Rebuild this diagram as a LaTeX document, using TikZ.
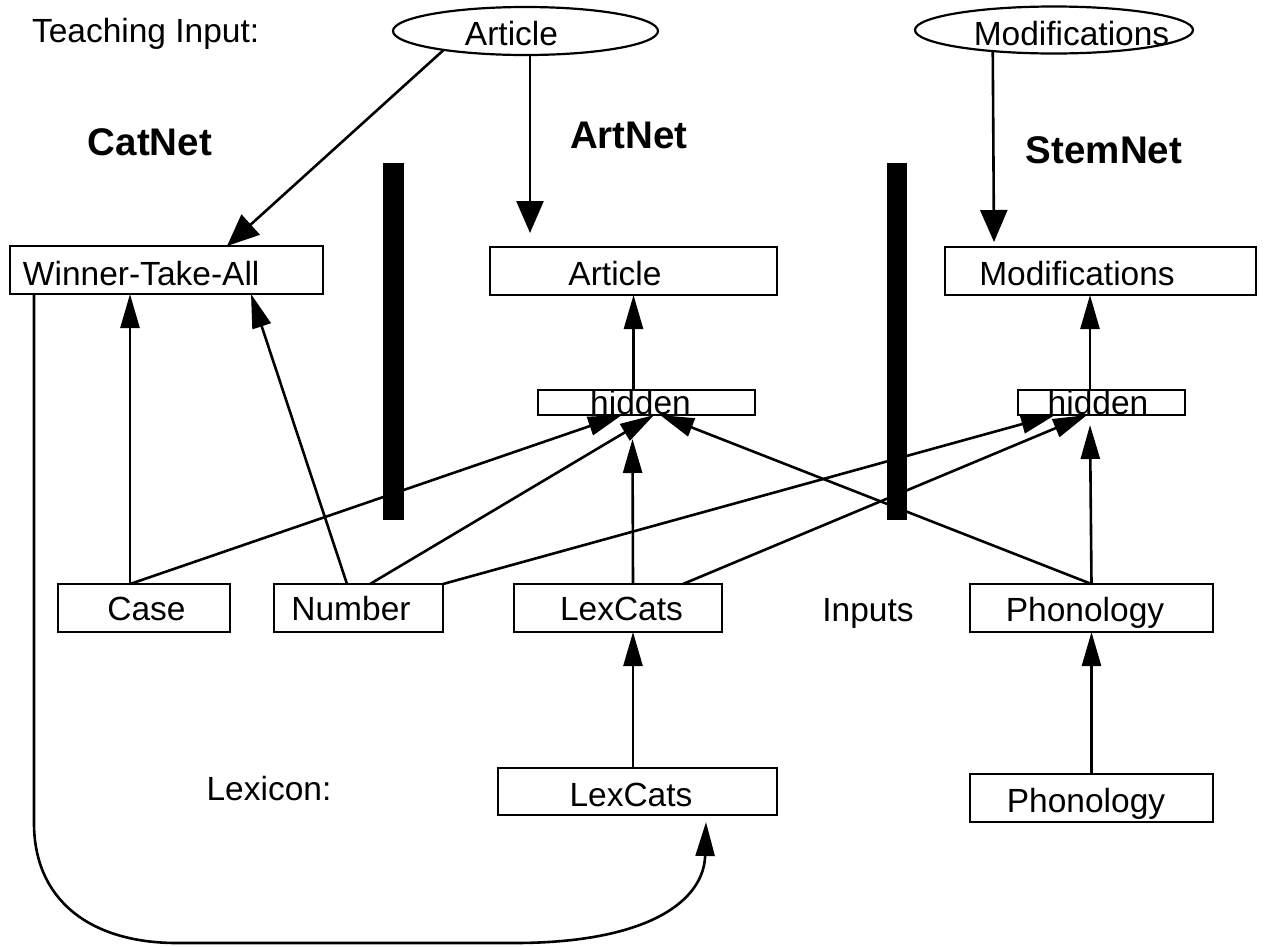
\documentclass[tikz,border=0pt]{standalone}
\usepackage{fontspec}
\setmainfont{Liberation Sans}
\usetikzlibrary{arrows.meta,shapes.geometric}
\begin{document}
\begin{tikzpicture}[x=1pt,y=-1pt,
  every node/.style={font=\fontsize{33.5}{39}\selectfont, inner sep=0pt, outer sep=0pt},
  unit/.style={draw, line width=2.5pt, rectangle, anchor=north west, minimum height=48pt},
  target/.style={draw, line width=2.2pt, ellipse},
  lbl/.style={anchor=base},
  netname/.style={anchor=base, font=\fontsize{38.5}{44}\selectfont\bfseries},
  link/.style={line width=2.6pt},
  feed/.style={link, -{Triangle[length=34pt,width=19pt]}},
  teach/.style={link, -{Triangle[length=32pt,width=27pt]}},
  barfill/.style={fill=black}
]
\useasboundingbox (0,0) rectangle (1266,946);

% separators between the three networks
\fill[barfill] (383,163) rectangle (404,520);
\fill[barfill] (887,163) rectangle (907,520);

% teaching inputs
\node[target, minimum width=265pt, minimum height=48pt] (artE) at (525.5,31) {};
\node[target, minimum width=278pt, minimum height=47pt] (modE) at (1054,30) {};

% unit layers
\node[unit, minimum width=313pt] (wta) at (10,246) {};
\node[unit, minimum width=287pt] (art) at (490,247) {};
\node[unit, minimum width=311pt] (mod) at (945,247) {};
\node[unit, minimum width=217pt, minimum height=25pt] (hid1) at (538,390) {};
\node[unit, minimum width=167pt, minimum height=25pt] (hid2) at (1018,390) {};
\node[unit, minimum width=172pt] (case) at (58,584) {};
\node[unit, minimum width=169pt] (num) at (274,584) {};
\node[unit, minimum width=208pt] (lex) at (514,584) {};
\node[unit, minimum width=243pt] (phon) at (970,584) {};
\node[unit, minimum width=279pt, minimum height=47pt] (llex) at (498,768) {};
\node[unit, minimum width=243pt] (lphon) at (970,774) {};

% texts
\node[anchor=base west] (tTeach) at (32,42) {Teaching Input:};
\node[lbl] (tArtE) at (511.5,45) {Article};
\node[lbl] (tModE) at (1071.5,45) {Modifications};
\node[netname] (tCat) at (150,155) {CatNet};
\node[netname] (tArtNet) at (629,148) {ArtNet};
\node[netname] (tStem) at (1104,163) {StemNet};
\node[anchor=base west] (tWta) at (23,285) {Winner-Take-All};
\node[lbl] (tArt) at (615,285) {Article};
\node[lbl] (tMod) at (1077,285) {Modifications};
\node[lbl] (tHid1) at (640.5,414) {hidden};
\node[lbl] (tHid2) at (1098,414) {hidden};
\node[lbl] (tCase) at (146.5,620) {Case};
\node[lbl] (tNum) at (351,620) {Number};
\node[lbl] (tLex) at (621.5,620) {LexCats};
\node[lbl] (tInputs) at (868,621) {Inputs};
\node[lbl] (tPhon) at (1085,621) {Phonology};
\node[lbl] (tLexicon) at (269,800) {Lexicon:};
\node[lbl] (tLlex) at (631,806) {LexCats};
\node[lbl] (tLphon) at (1086,812) {Phonology};

% teaching connections
\draw[teach] (artE.193) -- ([xshift=60.5pt]wta.north);
\draw[teach] ([xshift=4.5pt]artE.south) -- ([xshift=-103.5pt,yshift=14pt]art.north);
\draw[teach] (modE.199.5) -- ([xshift=-106.5pt,yshift=5pt]mod.north);

% CatNet
\draw[feed] ([xshift=-14pt]case.north) -- ([xshift=-36.5pt]wta.south);
\draw[feed] ([xshift=-11.5pt]num.north) -- ([xshift=84.5pt]wta.south);

% ArtNet
\draw[feed] ([xshift=-13pt]hid1.north) -- (art.south);
\draw[feed] ([xshift=-14pt]case.north) -- ([xshift=-24.5pt]hid1.south);
\draw[feed] ([xshift=11.5pt]num.north) -- ([xshift=7.5pt]hid1.south);
\draw[feed] ([xshift=15pt]lex.north) -- ([xshift=-14pt,yshift=-24pt]hid1.south);
\draw[feed] (phon.north) -- ([xshift=13.5pt]hid1.south);

% StemNet
\draw[feed] ([xshift=-11.5pt]hid2.north) -- ([xshift=-10.5pt]mod.south);
\draw[feed] (num.north east) -- ([xshift=-46.5pt]hid2.south);
\draw[feed] ([xshift=65pt]lex.north) -- ([xshift=-14.5pt]hid2.south);
\draw[feed] (phon.north) -- ([xshift=-11.5pt,yshift=-10pt]hid2.south);

% lexicon to inputs
\draw[feed] ([xshift=-4.5pt]llex.north) -- ([xshift=15pt]lex.south);
\draw[feed] (lphon.north) -- (phon.south);

% category decision feeds back to the lexicon
\draw[feed] ([xshift=-132.5pt]wta.south) -- (34,823)
  .. controls (34,900) and (90,943) .. (177,943) -- (514,943)
  .. controls (650,943) and (704,900) .. ([xshift=68.5pt,yshift=-7pt]llex.south);
\end{tikzpicture}
\end{document}
